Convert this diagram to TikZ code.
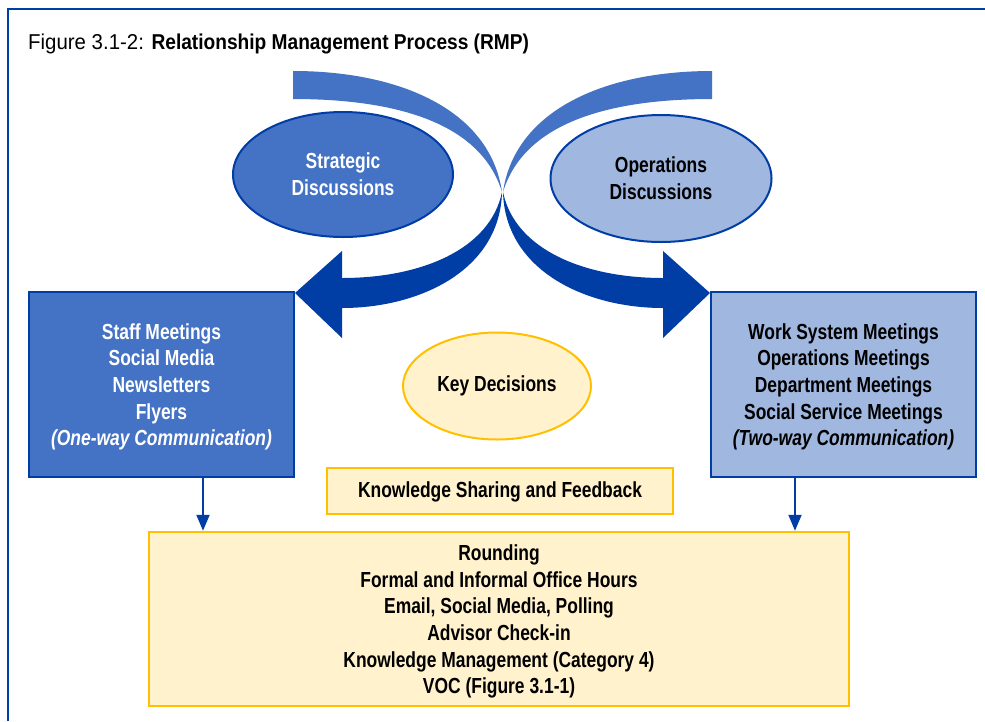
\documentclass[tikz,border=0pt]{standalone}
\usepackage{fontspec}
\setmainfont{Liberation Sans}
\newfontfamily\narrowsans{Liberation Sans}[FakeStretch=0.80]
\newfontfamily\titleregular{Liberation Sans}[FakeStretch=0.95]
\newfontfamily\titlebold{Liberation Sans}[FakeStretch=0.89]
\usetikzlibrary{arrows.meta,shapes.geometric}
\definecolor{dblue}{RGB}{0,61,165}
\definecolor{mblue}{RGB}{68,114,196}
\definecolor{lblue}{RGB}{160,183,224}
\definecolor{lyellow}{RGB}{255,242,204}
\definecolor{gold}{RGB}{255,192,0}
\newcommand\mytopstrut[1]{\rule{0pt}{#1}}
\tikzset{
  body/.style={font=\narrowsans\bfseries\fontsize{21.8}{26.7}\selectfont, align=center, inner sep=0pt},
  darkbox/.style={body, rectangle, draw=dblue, line width=2.5pt, fill=mblue, text=white, minimum width=265pt, minimum height=185pt},
  lightbox/.style={body, rectangle, draw=dblue, line width=2.5pt, fill=lblue, text=black, minimum width=265pt, minimum height=185pt},
  yellowbox/.style={body, rectangle, draw=gold, line width=2.5pt, fill=lyellow, text=black},
  yellowoval/.style={body, ellipse, draw=gold, line width=2pt, fill=lyellow, text=black},
  blueoval/.style={body, ellipse, draw=dblue, line width=2pt},
  downarrow/.style={draw=dblue, line width=2pt, -{Triangle[width=13pt,length=16pt]}},
  backband/.style={fill=mblue},
  frontband/.style={fill=dblue}
}
\begin{document}
\begin{tikzpicture}[x=1pt,y=-1pt]
\useasboundingbox (0,0) rectangle (985,721);
\fill[white] (0,0) rectangle (985,721);
% outer frame
\draw[dblue, line width=2pt] (8,721) -- (8,8.5) -- (985,8.5);
% title
\node[anchor=base west, inner sep=0pt, font=\fontsize{21.5}{25}\selectfont] (title) at (28,49.5)
  {\titleregular Figure 3.1-2: \titlebold\bfseries Relationship Management Process (RMP)};
% left curved ribbon
\fill[backband] (293,71) .. controls (400,71) and (490,110) .. (502,192)
   .. controls (480,120) and (390,99) .. (293,99) -- cycle;
\fill[frontband] (502,192) .. controls (500,270) and (420,308) .. (342,308)
   -- (342,338) -- (295,293) -- (342,251) -- (342,278)
   .. controls (420,278) and (490,250) .. (502,192) -- cycle;
% right curved ribbon (mirror)
\fill[backband] (712,71) .. controls (605,71) and (515,110) .. (503,192)
   .. controls (525,120) and (615,99) .. (712,99) -- cycle;
\fill[frontband] (503,192) .. controls (505,270) and (585,308) .. (663,308)
   -- (663,338) -- (710,293) -- (663,251) -- (663,278)
   .. controls (585,278) and (515,250) .. (503,192) -- cycle;
% ovals
\node[blueoval, fill=mblue, text=white, minimum width=220pt, minimum height=125pt] (strat) at (343,174.5)
  {Strategic\\Discussions};
\node[blueoval, fill=lblue, text=black, minimum width=221pt, minimum height=127pt] (oper) at (661,178.5)
  {Operations\\Discussions};
\node[yellowoval, minimum width=188pt, minimum height=107pt] (key) at (497,386) {Key Decisions};
% boxes
\node[darkbox] (lbox) at (161.5,384.5)
  {\mytopstrut{20.5pt}Staff Meetings\\Social Media\\Newsletters\\Flyers\\\textit{(One-way Communication)}};
\node[lightbox] (rbox) at (843.5,384.5)
  {\mytopstrut{20.5pt}Work System Meetings\\Operations Meetings\\Department Meetings\\Social Service Meetings\\\textit{(Two-way Communication)}};
\node[yellowbox, minimum width=346pt, minimum height=46pt] (ks) at (500,491)
  {\mytopstrut{18.5pt}Knowledge Sharing and Feedback};
\node[yellowbox, minimum width=700pt, minimum height=174pt] (bbox) at (499,619)
  {\mytopstrut{21pt}Rounding\\Formal and Informal Office Hours\\Email, Social Media, Polling\\Advisor Check-in\\Knowledge Management (Category 4)\\VOC (Figure 3.1-1)};
% down arrows
\coordinate (la) at ([xshift=41.5pt]lbox.south);
\coordinate (ra) at ([xshift=-48.5pt]rbox.south);
\draw[downarrow] (la) -- (la |- bbox.north);
\draw[downarrow] (ra) -- (ra |- bbox.north);
\end{tikzpicture}
\end{document}
